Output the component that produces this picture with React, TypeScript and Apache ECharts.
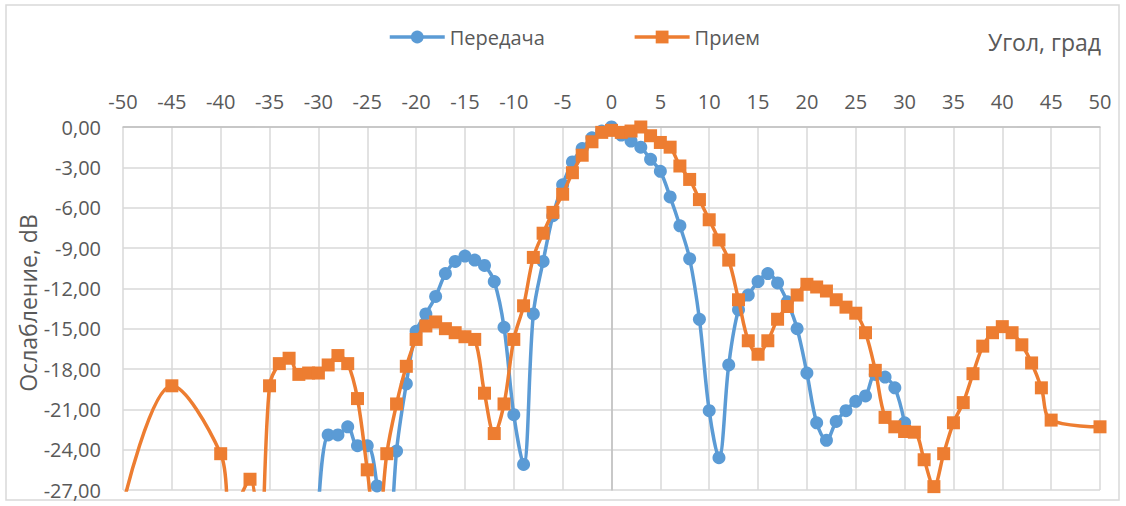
import React, { useEffect, useRef } from "react";
import * as echarts from "echarts";

// Передача (transmit)
const txAngles = [
  -30, -29, -28, -27, -26, -25, -24, -23, -22, -21, -20, -19, -18, -17, -16, -15, -14, -13, -12, -11,
  -10, -9, -8, -7, -6, -5, -4, -3, -2, -1, 0, 1, 2, 3, 4, 5, 6, 7, 8, 9,
  10, 11, 12, 13, 14, 15, 16, 17, 18, 19, 20, 21, 22, 23, 24, 25, 26, 27, 28, 29, 30,
];
const txValues = [
  -28.5, -22.9, -22.9, -22.3, -23.7, -23.7, -26.7, -33.8, -24.1, -19.1, -15.2, -13.9, -12.6, -10.9, -10.0, -9.6, -9.9, -10.3, -11.5, -14.9,
  -21.4, -25.1, -13.9, -10.0, -6.6, -4.3, -2.6, -1.6, -0.8, -0.3, 0.0, -0.6, -1.05, -1.5, -2.4, -3.3, -5.2, -7.35, -9.8, -14.3,
  -21.1, -24.6, -17.7, -13.6, -12.5, -11.5, -10.9, -11.6, -13.0, -15.0, -18.3, -22.0, -23.3, -21.9, -21.1, -20.4, -20.0, -18.4, -18.6, -19.4, -22.0,
];

// Прием (receive)
const rxAngles = [
  -50, -45, -40, -39, -37, -36, -35, -34, -33, -32, -31, -30, -29, -28, -27, -26, -25, -24, -23, -22,
  -21, -20, -19, -18, -17, -16, -15, -14, -13, -12, -11, -10, -9, -8, -7, -6, -5, -4, -3, -2,
  -1, 0, 1, 2, 3, 4, 5, 6, 7, 8, 9, 10, 11, 12, 13, 14, 15, 16, 17, 18,
  19, 20, 21, 22, 23, 24, 25, 26, 27, 28, 29, 30, 31, 32, 33, 34, 35, 36, 37, 38,
  39, 40, 41, 42, 43, 44, 45, 50,
];
const rxValues = [
  -28.1, -19.25, -24.3, -28.8, -26.2, -32.0, -19.25, -17.6, -17.2, -18.4, -18.3, -18.3, -17.7, -17.0, -17.6, -20.2, -25.5, -31.0, -24.3, -20.6,
  -17.8, -15.8, -14.8, -14.5, -15.0, -15.3, -15.6, -15.8, -19.8, -22.8, -20.6, -15.8, -13.3, -9.7, -7.9, -6.35, -5.0, -3.4, -2.1, -1.1,
  -0.4, -0.25, -0.4, -0.3, 0.0, -0.65, -1.15, -1.5, -2.9, -3.9, -5.4, -6.9, -8.4, -9.9, -12.85, -15.9, -16.9, -15.9, -14.3, -13.35,
  -12.5, -11.7, -11.9, -12.2, -12.85, -13.4, -13.85, -15.3, -18.1, -21.6, -22.3, -22.65, -22.7, -24.75, -26.75, -24.3, -22.0, -20.5, -18.35, -16.3,
  -15.3, -14.85, -15.3, -16.2, -17.55, -19.4, -21.8, -22.3,
];

const seriesNames = ["Передача", "Прием"];
const xAxisTitle = "Угол, град";
const yAxisTitle = "Ослабление, dB";
const xMin = -50;
const xMax = 50;
const xStep = 5;
const yMin = -27;
const yMax = 0;
const yStep = 3;

export default function App() {
  const ref = useRef<HTMLDivElement>(null);

  useEffect(() => {
    if (!ref.current) return;
    const chart = echarts.init(ref.current, null, { renderer: "svg" });
    const font = "'Open Sans', 'Noto Sans', sans-serif";
    const labelColor = "#595959";
    const gridColor = "#d9d9d9";
    const fmtY = (v: number) => (Math.abs(v) < 1e-9 ? "0,00" : v.toFixed(2).replace(".", ","));
    const txData = txAngles.map((a, i) => [a, txValues[i]]);
    const rxData = rxAngles.map((a, i) => [a, rxValues[i]]);

    chart.setOption({
      animation: false,
      backgroundColor: "#ffffff",
      grid: { left: 123, right: 26, top: 127, bottom: 16 },
      legend: {
        data: seriesNames,
        left: 383,
        top: 22,
        itemWidth: 55,
        itemHeight: 16,
        itemGap: 88,
        lineStyle: { width: 3.5 },
        textStyle: { fontSize: 20, color: labelColor, fontFamily: font },
      },
      xAxis: {
        type: "value",
        position: "top",
        min: xMin,
        max: xMax,
        interval: xStep,
        axisLine: { show: true, onZero: false, lineStyle: { color: "#bfbfbf", width: 1.5 } },
        axisTick: { show: false },
        axisLabel: { color: labelColor, fontSize: 20, fontFamily: font, margin: 16 },
        splitLine: { show: true, lineStyle: { color: gridColor, width: 1.5 } },
      },
      yAxis: [
        {
          type: "value",
          position: "left",
          min: yMin,
          max: yMax,
          interval: yStep,
          axisLine: { show: false, onZero: false },
          axisTick: { show: false },
          axisLabel: { color: labelColor, fontSize: 20, fontFamily: font, margin: 22, formatter: fmtY },
          splitLine: { show: true, lineStyle: { color: gridColor, width: 1.5 } },
        },
        {
          type: "value",
          min: yMin,
          max: yMax,
          interval: yStep,
          axisLine: { show: true, onZero: true, lineStyle: { color: "#bfbfbf", width: 1.5 } },
          axisTick: { show: false },
          axisLabel: { show: false },
          splitLine: { show: false },
        },
      ],
      series: [
        {
          name: seriesNames[0],
          type: "line",
          data: txData,
          smooth: 0.35,
          clip: true,
          symbol: "circle",
          symbolSize: 13,
          lineStyle: { width: 3.5, color: "#5B9BD5" },
          itemStyle: { color: "#5B9BD5" },
          z: 3,
        },
        {
          name: seriesNames[1],
          type: "line",
          data: rxData,
          smooth: 0.35,
          clip: true,
          symbol: "rect",
          symbolSize: 13,
          lineStyle: { width: 3.5, color: "#ED7D31" },
          itemStyle: { color: "#ED7D31" },
          z: 4,
        },
      ],
      graphic: [
        {
          type: "rect",
          shape: { x: 6, y: 5, width: 1113, height: 495 },
          style: { fill: "none", stroke: gridColor, lineWidth: 1.5 },
          silent: true,
          z: -10,
        },
        {
          type: "text",
          x: 1101,
          y: 42,
          style: {
            text: xAxisTitle,
            fill: labelColor,
            fontSize: 23,
            fontFamily: font,
            align: "right",
            verticalAlign: "middle",
          },
        },
        {
          type: "text",
          x: 28,
          y: 303,
          rotation: Math.PI / 2,
          style: {
            text: yAxisTitle,
            fill: labelColor,
            fontSize: 23,
            fontFamily: font,
            align: "center",
            verticalAlign: "middle",
          },
        },
      ],
    });

    return () => chart.dispose();
  }, []);

  return (
    <div
      ref={ref}
      style={{ position: "absolute", left: 0, top: 0, width: 1126, height: 506, background: "#fff" }}
    />
  );
}
